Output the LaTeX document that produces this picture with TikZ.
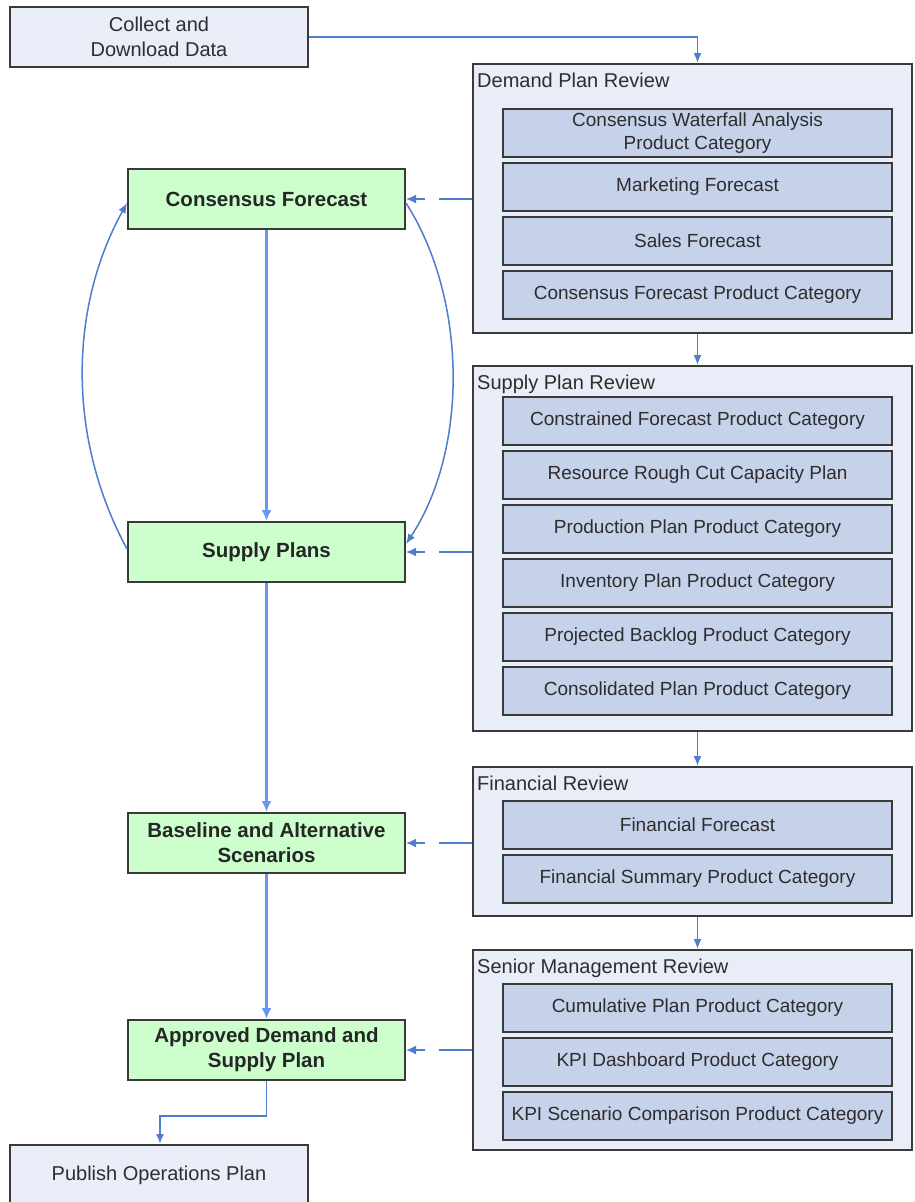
\documentclass[tikz,border=0pt]{standalone}
\usepackage{fontspec}
\setmainfont{Liberation Sans}
\usetikzlibrary{arrows.meta,calc}
\definecolor{contfill}{RGB}{233,237,247}
\definecolor{innerfill}{RGB}{198,209,234}
\definecolor{greenfill}{RGB}{204,255,204}
\definecolor{bordc}{RGB}{58,58,58}
\definecolor{txt}{RGB}{45,45,45}
\definecolor{arrowc}{RGB}{79,125,205}
\definecolor{mainarrow}{RGB}{105,150,245}
\tikzset{
  basebox/.style={draw=bordc, line width=2pt, inner sep=0pt, align=center, text=txt},
  plainbox/.style={basebox, fill=contfill, minimum width=298pt, minimum height=60pt, font=\fontsize{20}{25}\selectfont},
  container/.style={basebox, fill=contfill, minimum width=439pt},
  innerbox/.style={basebox, fill=innerfill, minimum width=389pt, minimum height=48pt, font=\fontsize{19}{23}\selectfont},
  greenbox/.style={basebox, fill=greenfill, minimum width=277pt, minimum height=60pt, font=\fontsize{20.5}{25}\selectfont\bfseries, text=black!85},
  titletext/.style={anchor=north west, inner sep=0pt, text=txt, font=\fontsize{20}{24}\selectfont},
  flow/.style={draw=arrowc, line width=1.6pt, -{Latex[length=10pt,width=8pt]}},
  mainflow/.style={draw=mainarrow, line width=2.5pt, -{Latex[length=11pt,width=10pt]}},
  side/.style={draw=arrowc, line width=1.6pt, -{Latex[length=10pt,width=9pt]}, dash pattern=on 33pt off 14pt on 40pt},
  curve/.style={draw=arrowc, line width=1.5pt, -{Latex[length=10pt,width=8pt]}}
}
\begin{document}
\begin{tikzpicture}[x=1pt,y=-1pt]
\useasboundingbox (0,0) rectangle (914,1202);
\fill[white] (0,0) rectangle (914,1202);

% left column
\node[plainbox] (collect) at (159,37) {Collect and\\Download Data};
\node[plainbox] (publish) at (159,1175) {Publish Operations Plan};
\node[greenbox] (cf) at (266.5,199) {Consensus Forecast};
\node[greenbox] (sp) at (266.5,552) {Supply Plans};
\node[greenbox] (bl) at (266.5,843) {Baseline and Alternative\\Scenarios};
\node[greenbox] (ap) at (266.5,1050) {Approved Demand and\\Supply Plan};

% Demand plan review
\node[container, minimum height=269pt] (demand) at (692.5,198.5) {};
\node[titletext] (demandt) at (477,73) {Demand Plan Review};
\node[innerbox] (d1) at (697.5,133) {Consensus Waterfall Analysis\\Product Category};
\node[innerbox] (d2) at (697.5,187) {Marketing Forecast};
\node[innerbox] (d3) at (697.5,241) {Sales Forecast};
\node[innerbox] (d4) at (697.5,295) {Consensus Forecast Product Category};

% Supply plan review
\node[container, minimum height=365pt] (supply) at (692.5,548.5) {};
\node[titletext] (supplyt) at (477,375) {Supply Plan Review};
\node[innerbox] (s1) at (697.5,421) {Constrained Forecast Product Category};
\node[innerbox] (s2) at (697.5,475) {Resource Rough Cut Capacity Plan};
\node[innerbox] (s3) at (697.5,529) {Production Plan Product Category};
\node[innerbox] (s4) at (697.5,583) {Inventory Plan Product Category};
\node[innerbox] (s5) at (697.5,637) {Projected Backlog Product Category};
\node[innerbox] (s6) at (697.5,691) {Consolidated Plan Product Category};

% Financial review
\node[container, minimum height=149pt] (fin) at (692.5,841.5) {};
\node[titletext] (fint) at (477,776) {Financial Review};
\node[innerbox] (f1) at (697.5,825) {Financial Forecast};
\node[innerbox] (f2) at (697.5,879) {Financial Summary Product Category};

% Senior management review
\node[container, minimum height=200pt] (senior) at (692.5,1050) {};
\node[titletext] (seniort) at (477,959) {Senior Management Review};
\node[innerbox] (m1) at (697.5,1008) {Cumulative Plan Product Category};
\node[innerbox] (m2) at (697.5,1062) {KPI Dashboard Product Category};
\node[innerbox] (m3) at (697.5,1116) {KPI Scenario Comparison Product Category};

% connectors on the right
\draw[flow] (collect.east) -| (d1.north |- demand.north);
\draw[flow] (d4.south |- demand.south) -- (s1.north |- supply.north);
\draw[flow] (s6.south |- supply.south) -- (f1.north |- fin.north);
\draw[flow] (f2.south |- fin.south) -- (m1.north |- senior.north);

% side connectors
\draw[side] (demand.west |- cf.east) -- (cf.east);
\draw[side] (supply.west |- sp.east) -- (sp.east);
\draw[side] (fin.west |- bl.east) -- (bl.east);
\draw[side] (senior.west |- ap.east) -- (ap.east);

% main vertical flow
\draw[mainflow] (cf.south) -- (sp.north);
\draw[mainflow] (sp.south) -- (bl.north);
\draw[mainflow] (bl.south) -- (ap.north);
\coordinate (bend) at ($(ap.south)+(0,35)$);
\draw[flow] (ap.south) -- (bend) -| (publish.north -| 160,0);

% curves
\draw[curve] ($(sp.west)+(0,-3)$) .. controls (68,440) and (68,310) .. ($(cf.west)+(0,4)$);
\draw[curve] ($(cf.east)+(0,4)$) .. controls (468,300) and (468,450) .. ($(sp.east)+(0,-8)$);
\end{tikzpicture}
\end{document}
